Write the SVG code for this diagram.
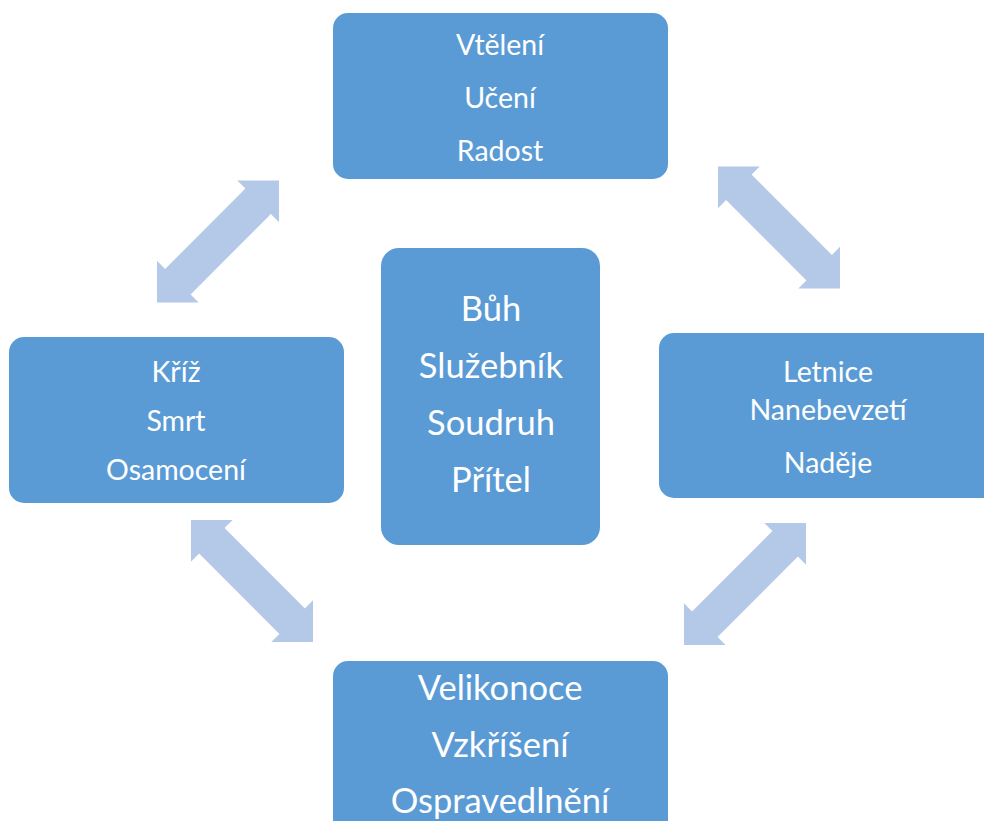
<svg xmlns="http://www.w3.org/2000/svg" width="984" height="821" viewBox="0 0 984 821">
  <style>
    .box { fill: #5B9BD5; }
    .lbl { fill: #FFFFFF; font-family: Lato, "Open Sans", "Liberation Sans", sans-serif; text-anchor: middle; }
    .s { font-size: 28.5px; }
    .l { font-size: 34.5px; }
    .arr { fill: #B4C8E8; }
  </style>
  <defs>
    <!-- double-headed block arrow along the x axis, centred on the origin -->
    <path id="dbl" d="M-86.3,0 L-56.8,-29.5 L-56.8,-18 L56.8,-18 L56.8,-29.5 L86.3,0 L56.8,29.5 L56.8,18 L-56.8,18 L-56.8,29.5 Z"/>
  </defs>

  <rect width="984" height="821" fill="#FFFFFF"/>

  <g id="connectors">
    <use href="#dbl" class="arr" transform="translate(218,241.5) rotate(-45)"/>
    <use href="#dbl" class="arr" transform="translate(779,227.5) rotate(45)"/>
    <use href="#dbl" class="arr" transform="translate(252,581) rotate(45)"/>
    <use href="#dbl" class="arr" transform="translate(745,584) rotate(-45)"/>
  </g>

  <g id="top">
    <rect class="box" x="333" y="13" width="335" height="166" rx="15"/>
    <text class="lbl s" x="500" y="55">Vtělení</text>
    <text class="lbl s" x="500" y="108">Učení</text>
    <text class="lbl s" x="500" y="161">Radost</text>
  </g>

  <g id="center">
    <rect class="box" x="381" y="248" width="219" height="297" rx="18"/>
    <text class="lbl l" x="491" y="321">Bůh</text>
    <text class="lbl l" x="491" y="378">Služebník</text>
    <text class="lbl l" x="491" y="435">Soudruh</text>
    <text class="lbl l" x="491" y="492">Přítel</text>
  </g>

  <g id="left">
    <rect class="box" x="9" y="337" width="335" height="166" rx="15"/>
    <text class="lbl s" x="176" y="382">Kříž</text>
    <text class="lbl s" x="176" y="431">Smrt</text>
    <text class="lbl s" x="176" y="480">Osamocení</text>
  </g>

  <g id="right">
    <rect class="box" x="659" y="333" width="345" height="165" rx="15"/>
    <text class="lbl s" x="828" y="382">Letnice</text>
    <text class="lbl s" x="828" y="420">Nanebevzetí</text>
    <text class="lbl s" x="828" y="473">Naděje</text>
  </g>

  <g id="bottom">
    <rect class="box" x="333" y="661" width="335" height="190" rx="15"/>
    <text class="lbl l" x="500" y="700">Velikonoce</text>
    <text class="lbl l" x="500" y="757">Vzkříšení</text>
    <text class="lbl l" x="500" y="813">Ospravedlnění</text>
  </g>
</svg>
